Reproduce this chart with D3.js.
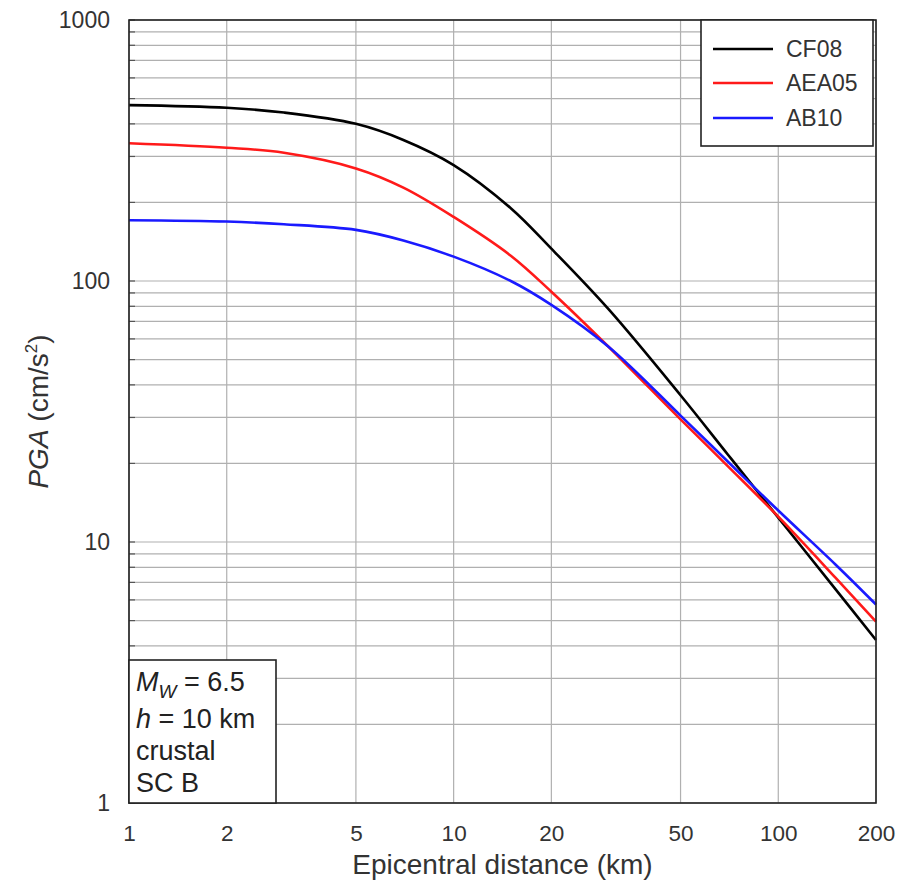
<!DOCTYPE html>
<html>
<head>
<meta charset="utf-8">
<script src="https://cdn.jsdelivr.net/npm/d3@7"></script>
<style>
  html, body { margin: 0; padding: 0; background: #fff; }
  svg { display: block; font-family: "Liberation Sans", Arial, sans-serif; }
</style>
</head>
<body>
<svg id="chart" width="910" height="882"></svg>
<script>
// Data
const distances = [1, 2, 3, 5, 7, 10, 15, 20, 30, 50, 70, 100, 150, 200];
const cf08  = [472, 461, 442, 400, 347, 278, 190, 133, 78, 36.5, 21.6, 12.4, 6.6, 4.21];
const aea05 = [337, 324, 310, 270, 228, 176, 125, 91, 56, 29.5, 19.5, 12.5, 7.3, 4.95];
const ab10  = [171, 169, 165, 157, 143, 124, 100, 81, 56, 30.5, 20.3, 13.2, 8.2, 5.76];
const seriesNames = ["CF08", "AEA05", "AB10"];
const seriesColors = ["#000000", "#ff1a1a", "#1a1aff"];
const xTickValues = [1, 2, 5, 10, 20, 50, 100, 200];
const yTickValues = [1, 10, 100, 1000];

(function () {
const series = [cf08, aea05, ab10];

const svg = d3.select("#chart");
const pL = 129, pR = 876, pT = 20, pB = 803;

const x = d3.scaleLog().domain([1, 200]).range([pL, pR]);
const y = d3.scaleLog().domain([1, 1000]).range([pB, pT]);

// minor values for horizontal grid
const yMinor = [];
for (let dec = 1; dec < 1000; dec *= 10) {
  for (let m = 1; m < 10; m++) yMinor.push(dec * m);
}
yMinor.push(1000);

const grid = svg.append("g");
grid.selectAll("line.h").data(yMinor).enter().append("line")
  .attr("x1", pL).attr("x2", pR)
  .attr("y1", d => y(d)).attr("y2", d => y(d))
  .attr("stroke", "#b0b0b0").attr("stroke-width", 1.2);
grid.selectAll("line.v").data(xTickValues).enter().append("line")
  .attr("y1", pT).attr("y2", pB)
  .attr("x1", d => x(d)).attr("x2", d => x(d))
  .attr("stroke", "#b0b0b0").attr("stroke-width", 1.2);

// inner ticks on left axis
svg.append("g").selectAll("line").data(yMinor).enter().append("line")
  .attr("x1", pL).attr("x2", pL + 6)
  .attr("y1", d => y(d)).attr("y2", d => y(d))
  .attr("stroke", "#555").attr("stroke-width", 1.2);

// Axes labels via d3 axes (no domain lines)
const xAxis = d3.axisBottom(x).tickValues(xTickValues).tickFormat(d3.format("d")).tickSize(0).tickPadding(22);
const gx = svg.append("g").attr("transform", `translate(0,${pB})`).call(xAxis);
gx.select(".domain").remove();
gx.selectAll("text").attr("font-size", 22.5).attr("fill", "#333").attr("font-family", "Liberation Sans, Arial, sans-serif");

const yAxis = d3.axisLeft(y).tickValues(yTickValues).tickFormat(d3.format("d")).tickSize(0).tickPadding(19);
const gy = svg.append("g").attr("transform", `translate(${pL},0)`).call(yAxis);
gy.select(".domain").remove();
gy.selectAll("text").attr("font-size", 23).attr("fill", "#333").attr("font-family", "Liberation Sans, Arial, sans-serif");

// Curves
const line = d3.line().x(d => x(d[0])).y(d => y(d[1])).curve(d3.curveCatmullRom.alpha(0.5));
const plot = svg.append("g");
series.forEach((vals, i) => {
  plot.append("path")
    .datum(distances.map((d, j) => [d, vals[j]]))
    .attr("d", line)
    .attr("fill", "none")
    .attr("stroke", seriesColors[i])
    .attr("stroke-width", 2.6);
});

// Frame
svg.append("rect").attr("x", pL).attr("y", pT).attr("width", pR - pL).attr("height", pB - pT)
  .attr("fill", "none").attr("stroke", "#222").attr("stroke-width", 1.6);

// Legend
const lg = svg.append("g");
lg.append("rect").attr("x", 701).attr("y", pT).attr("width", 873 - 701).attr("height", 146 - pT)
  .attr("fill", "#fff").attr("stroke", "#222").attr("stroke-width", 1.6);
const legendY = [49, 83, 118];
seriesNames.forEach((name, i) => {
  lg.append("line").attr("x1", 713).attr("x2", 773).attr("y1", legendY[i]).attr("y2", legendY[i])
    .attr("stroke", seriesColors[i]).attr("stroke-width", 2.6);
  lg.append("text").attr("x", 786).attr("y", legendY[i] + 8).attr("font-size", 23).attr("fill", "#333").text(name);
});

// Annotation box
const ab = svg.append("g");
ab.append("rect").attr("x", pL).attr("y", 660).attr("width", 276 - pL).attr("height", pB - 660)
  .attr("fill", "#fff").attr("stroke", "#222").attr("stroke-width", 1.6);
const fs = 27;
const t1 = ab.append("text").attr("x", 136).attr("y", 691).attr("font-size", fs).attr("fill", "#222");
t1.append("tspan").attr("font-style", "italic").text("M");
t1.append("tspan").attr("font-style", "italic").attr("font-size", 19).attr("dy", 7).text("W");
t1.append("tspan").attr("dy", -7).text(" = 6.5");
const t2 = ab.append("text").attr("x", 136).attr("y", 728).attr("font-size", fs).attr("fill", "#222");
t2.append("tspan").attr("font-style", "italic").text("h");
t2.append("tspan").text(" = 10 km");
ab.append("text").attr("x", 136).attr("y", 760).attr("font-size", fs).attr("fill", "#222").text("crustal");
ab.append("text").attr("x", 136).attr("y", 792).attr("font-size", fs).attr("fill", "#222").text("SC B");

// Axis titles
svg.append("text").attr("x", (pL + pR) / 2).attr("y", 874).attr("text-anchor", "middle")
  .attr("font-size", 28).attr("fill", "#333").text("Epicentral distance (km)");

const yt = svg.append("text").attr("transform", `translate(48,${(pT + pB) / 2}) rotate(-90)`)
  .attr("text-anchor", "middle").attr("font-size", 28).attr("fill", "#333");
yt.append("tspan").attr("font-style", "italic").text("PGA");
yt.append("tspan").text(" (cm/s");
yt.append("tspan").attr("font-size", 17).attr("dy", -11).text("2");
yt.append("tspan").attr("dy", 11).text(")");
})();
</script>
</body>
</html>
